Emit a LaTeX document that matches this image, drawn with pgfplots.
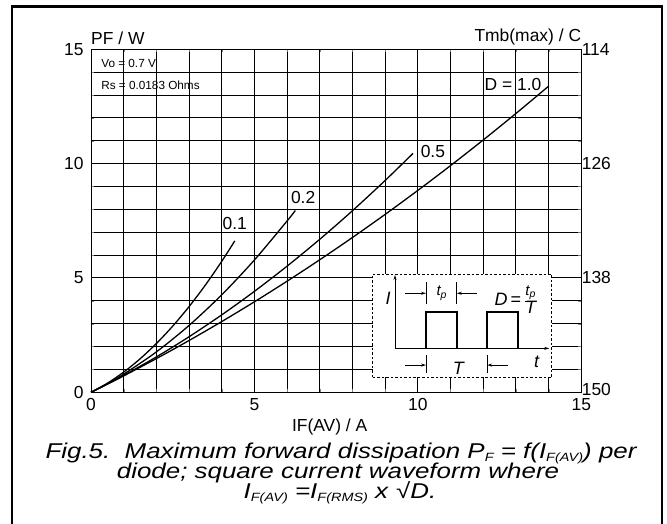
\documentclass[border=0pt]{standalone}
\usepackage{pgfplots}
\pgfplotsset{compat=1.18}
\usepackage{fontspec}
\setmainfont{Liberation Sans}
\newfontfamily\capfont[FakeStretch=1.21]{Liberation Sans}
\usetikzlibrary{arrows.meta}

% dissipation curves, P_F (W) against I_F(AV) (A), one per duty cycle
\pgfplotstableread{
x y
0 0
0.5 0.355
1 0.718
2 1.473
3 2.265
4 3.093
5 3.958
6 4.859
7 5.797
8 6.771
9 7.782
10 8.830
11 9.914
12 11.035
13 12.193
14 13.387
}\dOne
\pgfplotstableread{
x y
0 0
0.5 0.359
1 0.737
2 1.546
3 2.429
4 3.386
5 4.415
6 5.518
7 6.693
8 7.942
9 9.265
9.85 10.446
}\dHalf
\pgfplotstableread{
x y
0 0
0.5 0.373
1 0.792
2 1.766
3 2.924
4 4.264
5 5.788
6 7.494
6.25 7.949
}\dTwo
\pgfplotstableread{
x y
0 0
0.5 0.396
1 0.883
1.5 1.462
2 2.132
2.5 2.894
3 3.747
3.5 4.692
4 5.728
4.4 6.623
}\dTen

\newcommand\lbl{\fontsize{17.5}{17.5}\selectfont}
\newcommand\capset{\capfont\fontsize{21.5}{20}\selectfont\itshape}
\newcommand\sub[1]{\smash{\raisebox{-3bp}{\fontsize{12}{12}\selectfont #1}}}

\begin{document}
\begin{tikzpicture}[x=1bp,y=1bp]
\useasboundingbox (0,0) rectangle (667,524);
\begin{scope}
  \clip (0,0) rectangle (667,524);
  \draw[line width=2.4bp] (12,-10) -- (12,517.3) -- (662,517.3) -- (662,-10);
\end{scope}

\pgfplotsset{every axis/.append style={
  scale only axis, width=490.3bp, height=343bp,
  xmin=0, xmax=15, ymin=0, ymax=15,
  major tick length=0pt,
  tick label style={font=\lbl},
  /pgf/number format/assume math mode=true,
}}

\begin{axis}[
  at={(91bp,131.7bp)}, anchor=south west,
  xtick={0,5,10,15}, ytick={0,5,10,15},
  minor x tick num=4, minor y tick num=4,
  grid=both,
  major grid style={black, line width=1bp},
  minor grid style={black, line width=1bp},
  axis line style={black, line width=1bp},
  yticklabel style={xshift=-4bp},
  xticklabel style={yshift=-3bp},
  clip=false,
]
\addplot[black, line width=1.3bp, smooth] table {\dOne};
\addplot[black, line width=1.3bp, smooth] table {\dHalf};
\addplot[black, line width=1.3bp, smooth] table {\dTwo};
\addplot[black, line width=1.3bp, smooth] table {\dTen};

\node[font=\lbl] at (axis cs:4.40,7.40) {0.1};
\node[font=\lbl] at (axis cs:6.49,8.54) {0.2};
\node[font=\lbl] at (axis cs:10.46,10.55) {0.5};
\node[font=\lbl] at (axis cs:12.91,13.44) {D = 1.0};

\node[anchor=west, inner sep=0pt, font=\fontsize{11.8}{12}\selectfont] at (axis cs:0.31,14.4) {Vo = 0.7 V};
\node[anchor=west, inner sep=0pt, font=\fontsize{11.8}{12}\selectfont] at (axis cs:0.31,13.44) {Rs = 0.0183 Ohms};

\node[anchor=south west, inner sep=0pt, font=\lbl] at (rel axis cs:0,1) [yshift=4bp] {PF / W};
\node[anchor=south east, inner sep=0pt, font=\lbl] at (rel axis cs:1,1) [yshift=4bp] {Tmb(max) / C};
\node[font=\lbl] at (axis cs:7.3,0) [yshift=-35bp] {IF(AV) / A};

% inset: square current waveform
\fill[white] (axis cs:8.62,0.65) rectangle (axis cs:14.10,5.17);
\draw[black, line width=0.9bp, dash pattern=on 2.5bp off 2bp] (axis cs:8.62,0.65) rectangle (axis cs:14.10,5.17);
\draw[line width=0.8bp, -{Stealth[length=5bp,width=3bp]}] (axis cs:9.30,1.92) -- (axis cs:9.30,5.13);
\draw[line width=0.8bp, -{Stealth[length=5bp,width=3bp]}] (axis cs:9.30,1.92) -- (axis cs:14.02,1.92);
\draw[line width=1.6bp] (axis cs:9.30,1.92) -- (axis cs:10.25,1.92) -- (axis cs:10.25,3.50) -- (axis cs:11.19,3.50)
  -- (axis cs:11.19,1.92) -- (axis cs:12.12,1.92) -- (axis cs:12.12,3.50) -- (axis cs:13.07,3.50) -- (axis cs:13.07,1.92) -- (axis cs:13.9,1.92);
\draw[line width=0.8bp] (axis cs:10.25,3.86) -- (axis cs:10.25,4.82);
\draw[line width=0.8bp] (axis cs:11.19,3.86) -- (axis cs:11.19,4.82);
\draw[line width=0.8bp, -{Stealth[length=5bp,width=3bp]}] (axis cs:9.61,4.33) -- (axis cs:10.25,4.33);
\draw[line width=0.8bp, -{Stealth[length=5bp,width=3bp]}] (axis cs:11.80,4.33) -- (axis cs:11.19,4.33);
\draw[line width=0.8bp] (axis cs:10.25,0.84) -- (axis cs:10.25,1.63);
\draw[line width=0.8bp] (axis cs:12.12,0.84) -- (axis cs:12.12,1.63);
\draw[line width=0.8bp, -{Stealth[length=5bp,width=3bp]}] (axis cs:9.61,1.19) -- (axis cs:10.25,1.19);
\draw[line width=0.8bp, -{Stealth[length=5bp,width=3bp]}] (axis cs:12.76,1.19) -- (axis cs:12.12,1.19);
\node[font=\fontsize{18}{18}\selectfont\itshape] at (axis cs:9.09,4.11) {I};
\node[font=\fontsize{15}{15}\selectfont\itshape] at (axis cs:10.73,4.33) {t\textsubscript{p}};
\node[font=\fontsize{18}{18}\selectfont\itshape] at (axis cs:11.24,1.05) {T};
\node[font=\fontsize{18}{18}\selectfont\itshape] at (axis cs:13.63,1.34) {t};
\node[font=\fontsize{18}{18}\selectfont\itshape, inner sep=0pt] at (axis cs:13.0,4.04)
  {D\,=\,$\frac{\mbox{\fontsize{15}{15}\selectfont\itshape t\textsubscript{p}}}{\mbox{\fontsize{18}{18}\selectfont\itshape T}}$};
\end{axis}

\begin{axis}[
  at={(91bp,131.7bp)}, anchor=south west,
  axis x line=none, axis y line*=right,
  axis line style={black, line width=1bp},
  ytick={0,5,10,15}, yticklabels={\raisebox{5bp}{150},138,126,114},
  yticklabel style={anchor=west, xshift=-3bp},
]
\end{axis}

% caption, one node per line on its own baseline
\node[anchor=base, inner sep=0pt, font=\capset] at (341,65.3)
  {Fig.5.\ \ Maximum forward dissipation P\sub{F} = f(I\sub{F(AV)}) per};
\node[anchor=base, inner sep=0pt, font=\capset] at (338,45.3)
  {diode; square current waveform where};
\node[anchor=base, inner sep=0pt, font=\capset] at (340,25.3)
  {I\sub{F(AV)} =I\sub{F(RMS)} x \textup{√}D.};
\end{tikzpicture}
\end{document}
